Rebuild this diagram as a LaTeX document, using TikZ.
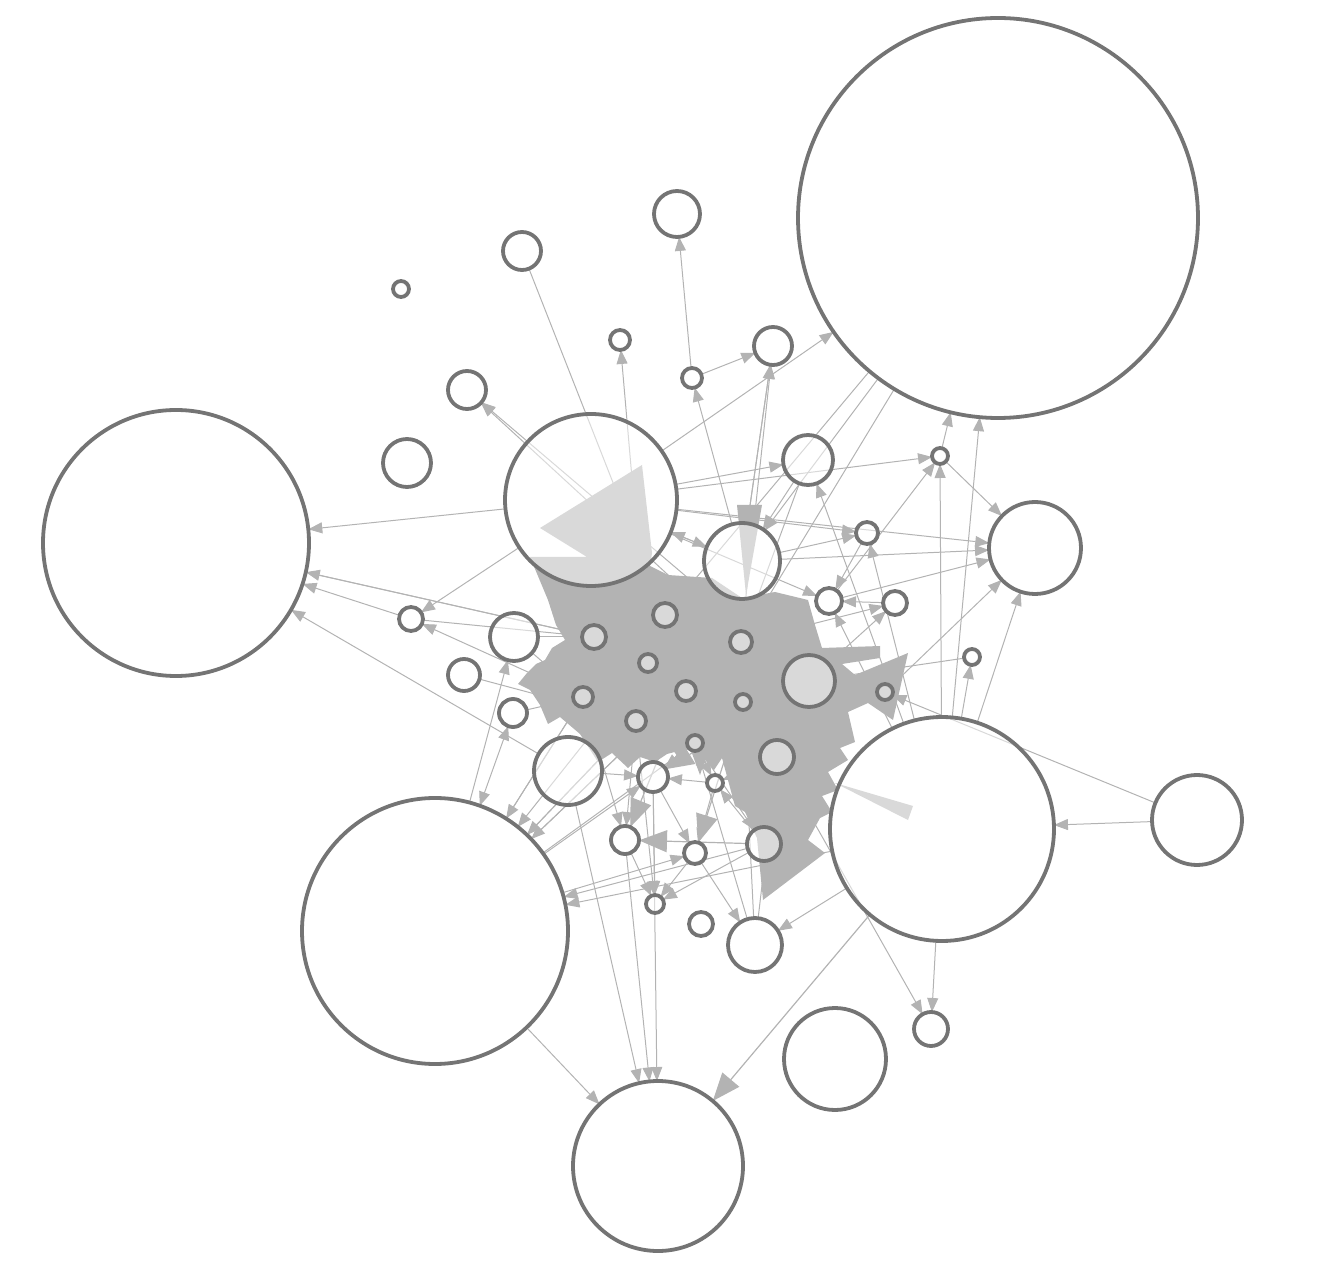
\documentclass[tikz,border=0pt]{standalone}
\usetikzlibrary{arrows.meta}
\pgfdeclarelayer{bg}
\pgfsetlayers{bg,main}
\definecolor{ndc}{HTML}{747474}
\definecolor{edc}{HTML}{B3B3B3}
\begin{document}
\begin{tikzpicture}[x=0.5pt,y=-0.5pt,
  nd/.style={circle,draw=ndc,line width=1.9pt,fill=white,fill opacity=0.5,draw opacity=1,inner sep=0pt,outer sep=0pt},
  ed/.style={draw=edc,line width=0.5pt,-{Triangle[length=7pt,width=5.5pt]}},
  edbig/.style={draw=edc,line width=0.6pt,-{Triangle[length=14pt,width=11pt]}},
  edtwo/.style={draw=edc,line width=0.5pt,{Triangle[length=7pt,width=5.5pt]}-{Triangle[length=7pt,width=5.5pt]}},
  blob/.style={fill=edc,draw=none}]
\useasboundingbox (0,0) rectangle (1334,1288);
% nodes (minimum size in pt = radius in px)
\node[nd,minimum size=200pt] (A) at (998,218) {};
\node[nd,minimum size=133pt] (B) at (176,543) {};
\node[nd,minimum size=133pt] (C) at (435,931) {};
\node[nd,minimum size=112pt] (D) at (942,829) {};
\node[nd,minimum size=85pt] (E) at (658,1166) {};
\node[nd,minimum size=86pt] (F) at (591,500) {};
\node[nd,minimum size=45pt] (G) at (1197,820) {};
\node[nd,minimum size=46pt] (H) at (1035,548) {};
\node[nd,minimum size=51pt] (I) at (835,1059) {};
\node[nd,minimum size=17pt] (J) at (931,1029) {};
\node[nd,minimum size=27pt] (K) at (755,945) {};
\node[nd,minimum size=12pt] (L) at (701,924) {};
\node[nd,minimum size=9pt] (M) at (655,904) {};
\node[nd,minimum size=17pt] (N) at (764,844) {};
\node[nd,minimum size=11pt] (O) at (695,853) {};
\node[nd,minimum size=14pt] (P) at (625,840) {};
\node[nd,minimum size=15pt] (Q) at (653,777) {};
\node[nd,minimum size=8pt] (R) at (715,783) {};
\node[nd,minimum size=34pt] (S) at (568,771) {};
\node[nd,minimum size=17pt] (T) at (777,757) {};
\node[nd,minimum size=8pt] (U) at (695,743) {};
\node[nd,minimum size=8pt] (V) at (743,702) {};
\node[nd,minimum size=10pt] (W) at (686,691) {};
\node[nd,minimum size=10pt] (X) at (636,721) {};
\node[nd,minimum size=10pt] (Y) at (583,697) {};
\node[nd,minimum size=14pt] (Z) at (513,713) {};
\node[nd,minimum size=16pt] (a) at (464,675) {};
\node[nd,minimum size=24pt] (b) at (514,637) {};
\node[nd,minimum size=12pt] (c) at (411,619) {};
\node[nd,minimum size=12pt] (d) at (594,637) {};
\node[nd,minimum size=9pt] (e) at (648,663) {};
\node[nd,minimum size=12pt] (f) at (665,615) {};
\node[nd,minimum size=11pt] (g) at (741,642) {};
\node[nd,minimum size=26pt] (h) at (809,681) {};
\node[nd,minimum size=8pt] (i) at (885,692) {};
\node[nd,minimum size=8pt] (j) at (972,657) {};
\node[nd,minimum size=12pt] (k) at (895,603) {};
\node[nd,minimum size=13pt] (l) at (829,601) {};
\node[nd,minimum size=38pt] (m) at (742,561) {};
\node[nd,minimum size=11pt] (n) at (867,533) {};
\node[nd,minimum size=25pt] (o) at (808,460) {};
\node[nd,minimum size=8pt] (p) at (940,456) {};
\node[nd,minimum size=19pt] (q) at (773,346) {};
\node[nd,minimum size=10pt] (r) at (692,378) {};
\node[nd,minimum size=23pt] (s) at (677,214) {};
\node[nd,minimum size=10pt] (t) at (620,340) {};
\node[nd,minimum size=19pt] (u) at (522,251) {};
\node[nd,minimum size=8pt] (v) at (401,289) {};
\node[nd,minimum size=19pt] (w) at (467,390) {};
\node[nd,minimum size=24pt] (x) at (407,463) {};
\begin{pgfonlayer}{bg}
\foreach \s/\t in {F/B,B/d,d/B,c/B,S/B,F/c,Y/c,C/b,u/f,e/t,r/s,r/q,m/r,F/A,m/q,g/q,
  A/f,A/m,A/g,F/p,l/p,D/p,p/A,D/A,p/H,m/H,l/H,i/H,D/H,D/j,j/h,D/n,D/l,h/k,g/k,
  m/n,F/n,D/o,G/D,G/i,D/J,T/J,C/E,S/E,P/E,Q/E,D/K,O/K,K/U,K/V,K/T,N/C,D/C,
  N/M,C/O,X/C,Y/C,W/C,e/C,C/Q,g/w,h/w,F/o,F/m,m/F,F/l,F/H,o/m,Q/M,P/M,X/M,
  C/Y,C/X,Y/P,X/P,Q/O,R/O,U/N,d/f,f/g,e/W,W/V,V/h,Y/X,X/U,U/R,d/Y,b/Y,b/d,a/X,
  Z/Y,c/d,T/R,N/R,h/T,i/h,k/l,n/l,o/g,q/m,R/Q,O/M,U/Q,W/T,V/N,C/W,C/U,S/Q}
  \draw[ed] (\s) -- (\t);
\draw[edbig] (D) -- (E);
\draw[edbig] (N) -- (P);
\draw[edbig] (W) -- (P);
\draw[edbig] (h) -- (Q);
\draw[edbig] (V) -- (O);
\draw[edtwo] (Z) -- (C);
% central blob
\path[blob] (540,528) -- (642,465) -- (652,553) -- (650,566) -- (668,575) -- (712,578)
  -- (742,598) -- (775,592) -- (808,600) -- (815,625) -- (822,648) -- (880,646) -- (880,658)
  -- (842,664) -- (855,675) -- (908,653) -- (893,720) -- (868,703) -- (848,712) -- (855,742)
  -- (840,748) -- (848,760) -- (828,772) -- (838,790) -- (822,796) -- (832,812) -- (820,818)
  -- (808,840) -- (825,853) -- (763,900) -- (757,838) -- (745,812) -- (735,806) -- (722,758)
  -- (714,770) -- (705,760) -- (700,775) -- (690,748) -- (667,754) -- (655,762) -- (640,757)
  -- (628,768) -- (612,753) -- (598,762) -- (580,734) -- (560,717) -- (548,724) -- (540,705)
  -- (530,690) -- (518,684) -- (527,673) -- (536,664) -- (545,660) -- (552,648) -- (565,640)
  -- (556,625) -- (548,600) -- (530,557) -- (587,557) -- cycle;
\path[blob] (737,505) -- (762,505) -- (746,595) -- cycle;
\path[blob] (835,783) -- (913,806) -- (908,820) -- cycle;
\end{pgfonlayer}
\end{tikzpicture}
\end{document}
